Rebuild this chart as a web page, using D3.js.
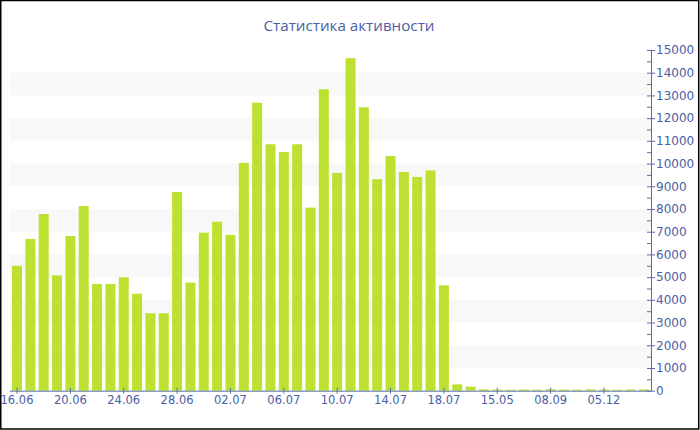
<!DOCTYPE html>
<html><head><meta charset="utf-8">
<script src="https://cdn.jsdelivr.net/npm/d3@7"></script>
<style>html,body{margin:0;padding:0;background:#fff;}svg{display:block;}</style>
</head><body>
<svg id="c" width="700" height="430"></svg>
<script>
const title = "Статистика активности";
const categories = ["16.06","17.06","18.06","19.06","20.06","21.06","22.06","23.06","24.06","25.06","26.06","27.06","28.06","29.06","30.06","01.07","02.07","03.07","04.07","05.07","06.07","07.07","08.07","09.07","10.07","11.07","12.07","13.07","14.07","15.07","16.07","17.07","18.07","19.07","20.07","03.05","15.05","27.05","10.06","02.08","08.09","15.09","10.10","20.11","05.12","18.12","25.12","30.12"];
const values = [5500,6680,7780,5080,6810,8130,4700,4700,4990,4270,3410,3410,8750,4760,6960,7440,6860,10030,12680,10850,10510,10850,8060,13270,9590,14640,12480,9310,10330,9630,9410,9700,4640,280,180,60,50,40,55,45,70,50,45,60,50,40,55,60];
const yTicks = [0,1000,2000,3000,4000,5000,6000,7000,8000,9000,10000,11000,12000,13000,14000,15000];
const shownLabels = ["16.06","20.06","24.06","28.06","02.07","06.07","10.07","14.07","18.07","15.05","08.09","05.12"];

const W = 700, H = 430;
const pLeft = 10, pRight = 651, pTop = 50, pBottom = 390.7;
const svg = d3.select("#c");
const textColor = "#4a5ea6", axisColor = "#5a6ea8";
const font = "DejaVu Sans, Verdana, sans-serif";

svg.append("rect").attr("width", W).attr("height", H).attr("fill", "#fff");

const x = d3.scaleBand().domain(categories).range([pLeft, pRight]).paddingInner(0.25).paddingOuter(0.15);
const y = d3.scaleLinear().domain([0, 15000]).range([pBottom, pTop]);

// bands
const bandStarts = yTicks.filter(v => v % 2000 === 1000 && v < 15000);
svg.append("g").selectAll("rect").data(bandStarts).join("rect")
  .attr("x", pLeft).attr("width", pRight - pLeft)
  .attr("y", d => y(d + 1000)).attr("height", d => y(d) - y(d + 1000))
  .attr("fill", "#f8f8f8");

// bars
svg.append("g").selectAll("rect").data(values).join("rect")
  .attr("x", (d, i) => x(categories[i]))
  .attr("width", x.bandwidth())
  .attr("y", d => y(d))
  .attr("height", d => pBottom - y(d))
  .attr("fill", "#bde130");

// x axis
const xAxis = d3.axisBottom(x).tickValues(shownLabels).tickSize(3).tickSizeOuter(0);
const gx = svg.append("g").attr("transform", `translate(0,${pBottom})`).call(xAxis);
gx.select(".domain").attr("stroke", axisColor).attr("d", `M${pLeft},0.5H${pRight}`);
gx.selectAll(".tick line").attr("stroke", axisColor).attr("y1", -3).attr("y2", 3);
gx.selectAll(".tick text").attr("fill", textColor).attr("font-family", font).attr("font-size", "11.5px").attr("dy", "0.85em").attr("y", 4);

// y axis (right)
const yAxis = d3.axisRight(y).tickValues(yTicks).tickSize(4).tickSizeOuter(0).tickFormat(d3.format("d"));
const gy = svg.append("g").attr("transform", `translate(${pRight},0)`).call(yAxis);
gy.select(".domain").attr("stroke", axisColor);
gy.selectAll(".tick line").attr("stroke", axisColor).attr("x1", -4).attr("x2", 4);
gy.selectAll(".tick text").attr("fill", textColor).attr("font-family", font).attr("font-size", "12px").attr("x", 5);
// minor ticks
const minor = yTicks.slice(0, -1).map(v => v + 500);
svg.append("g").selectAll("line").data(minor).join("line")
  .attr("x1", pRight - 4).attr("x2", pRight).attr("y1", d => y(d) + 0.5).attr("y2", d => y(d) + 0.5)
  .attr("stroke", axisColor);

// title
svg.append("text").attr("x", 349).attr("y", 31).attr("text-anchor", "middle")
  .attr("fill", textColor).attr("font-family", "Open Sans, Noto Sans, sans-serif").attr("font-size", "15.2px")
  .text(title);

// border
svg.append("rect").attr("x", 0.75).attr("y", 0.5).attr("width", 698).attr("height", 428.5)
  .attr("fill", "none").attr("stroke", "#000").attr("stroke-width", 1.5);
</script>
</body></html>
